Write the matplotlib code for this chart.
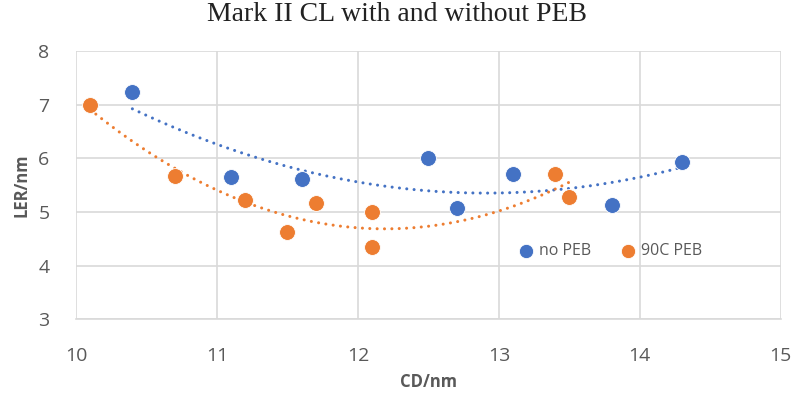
import numpy as np
import matplotlib.pyplot as plt

# data
cd_nopeb = [10.4, 11.1, 11.6, 12.5, 12.7, 13.1, 13.8, 14.3]
ler_nopeb = [7.24, 5.66, 5.61, 6.01, 5.08, 5.71, 5.13, 5.94]
cd_peb = [10.1, 10.7, 11.2, 11.5, 11.7, 12.1, 12.1, 13.4, 13.5]
ler_peb = [7.0, 5.68, 5.23, 4.62, 5.16, 5.0, 4.34, 5.71, 5.28]

blue = '#4472C4'
orange = '#ED7D31'
grey = '#595959'

fig = plt.figure(figsize=(7.94, 3.93), dpi=100)
ax = fig.add_axes([0.0957, 0.1875, 0.8876, 0.6825])

for x, y, c, lab in [(cd_nopeb, ler_nopeb, blue, 'no PEB'),
                     (cd_peb, ler_peb, orange, '90C PEB')]:
    ax.scatter(x, y, s=130, color=c, edgecolors='white', linewidths=0.6,
               label=lab, zorder=3)
    # 2nd order polynomial trendline like Excel
    p = np.polyfit(x, y, 2)
    xs = np.linspace(min(x), max(x), 200)
    ax.plot(xs, np.polyval(p, xs), color=c, lw=2.2,
            linestyle=(0, (0.01, 2.4)), dash_capstyle='round', zorder=2)

ax.set_xlim(10, 15)
ax.set_ylim(3, 8)
ax.set_xticks(range(10, 16))
ax.set_yticks(range(3, 9))
ax.grid(True, color='#d9d9d9', lw=1.2)
ax.set_axisbelow(True)
for s in ['top', 'right', 'left']:
    ax.spines[s].set_visible(False)
ax.spines['bottom'].set_color('#d9d9d9')
ax.spines['bottom'].set_linewidth(1.2)
ax.tick_params(axis='x', pad=20)
ax.tick_params(axis='y', pad=19)
ax.tick_params(length=0, labelsize=14, labelcolor=grey,
               labelfontfamily='Open Sans')

ax.set_xlabel('CD/nm', fontsize=12, fontweight='bold', color=grey,
              family='Open Sans', labelpad=6)
ax.set_ylabel('LER/nm', fontsize=12, fontweight='bold', color=grey,
              family='Open Sans', labelpad=6)
fig.suptitle('Mark II CL with and without PEB', x=0.5, y=0.995,
             fontsize=20, family='Liberation Serif', color='#222222')

leg = ax.legend(loc='center', bbox_to_anchor=(0.752, 0.255), ncol=2,
                frameon=False, handletextpad=-0.2, columnspacing=1.3,
                prop={'family': 'Open Sans', 'size': 11.5}, markerscale=0.9)
for t in leg.get_texts():
    t.set_color(grey)

fig.savefig('out.png', dpi=100)
